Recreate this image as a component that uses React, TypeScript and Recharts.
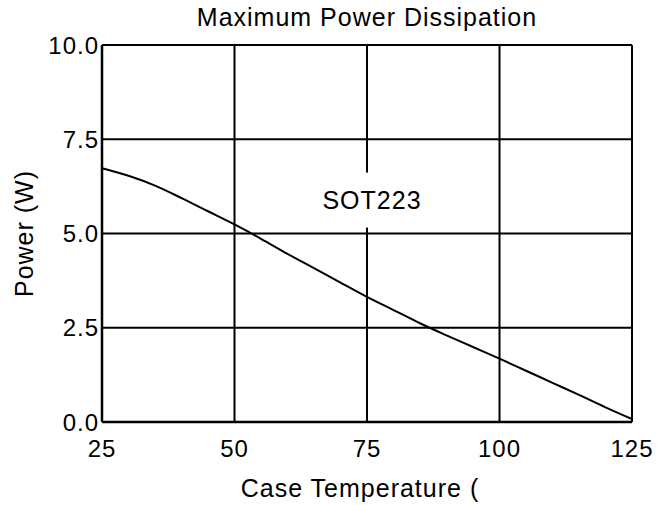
import React from "react";
import {
  LineChart,
  Line,
  XAxis,
  YAxis,
  CartesianGrid,
  Label,
  ReferenceDot,
} from "recharts";

const temperatures = [25, 30, 35, 40, 45, 50, 55, 60, 65, 70, 75, 80, 85, 90, 95, 100, 105, 110, 115, 120, 125];
const powerW = [6.73, 6.53, 6.27, 5.94, 5.59, 5.24, 4.86, 4.46, 4.08, 3.7, 3.32, 2.97, 2.62, 2.3, 1.99, 1.68, 1.36, 1.04, 0.72, 0.39, 0.08];
const xTicks = [25, 50, 75, 100, 125];
const yTicks = [0, 2.5, 5, 7.5, 10];
const title = "Maximum Power Dissipation";
const xLabel = "Case Temperature (";
const yLabel = "Power (W)";
const seriesLabel = "SOT223";
const seriesLabelAt = { x: 75, y: 5.9 };

const data = temperatures.map((t, i) => ({ t, p: powerW[i] }));

const FONT = '"Liberation Sans", Arial, Helvetica, sans-serif';

export default function App() {
  return (
    <div style={{ position: "absolute", left: 0, top: 0, width: 672, height: 506, background: "#fff", fontFamily: FONT }}>
      <div
        style={{
          position: "absolute",
          left: 102,
          width: 530,
          top: 5,
          textAlign: "center",
          fontSize: 25,
          lineHeight: "25px",
          letterSpacing: "1px",
          color: "#000",
          fontFamily: FONT,
        }}
      >
        {title}
      </div>
      <LineChart
        width={672}
        height={506}
        data={data}
        margin={{ top: 45, right: 40, left: 0, bottom: 0 }}
        style={{ fontFamily: FONT }}
      >
        <CartesianGrid stroke="#000" strokeWidth={2} strokeOpacity={1} />
        <XAxis
          dataKey="t"
          type="number"
          domain={[25, 125]}
          ticks={xTicks}
          height={84}
          tickLine={false}
          tickSize={0}
          tickMargin={18}
          axisLine={{ stroke: "#000", strokeWidth: 2.5 }}
          tick={{ fill: "#000", fontSize: 24, fontFamily: FONT, letterSpacing: 1 }}
          interval={0}
        >
          <Label
            content={(props: any) => {
              const vb = props.viewBox || { x: 102, y: 422, width: 530, height: 84 };
              const cx = vb.x + vb.width / 2 - 7;
              const by = vb.y + vb.height - 9;
              return (
                <text
                  x={cx}
                  y={by}
                  textAnchor="middle"
                  style={{ fontSize: 25, fill: "#000", fontFamily: FONT, letterSpacing: 1 }}
                >
                  {xLabel}
                </text>
              );
            }}
          />
        </XAxis>
        <YAxis
          type="number"
          domain={[0, 10]}
          ticks={yTicks}
          width={102}
          tickLine={false}
          tickSize={0}
          tickMargin={3}
          interval={0}
          axisLine={{ stroke: "#000", strokeWidth: 2.5 }}
          tick={{ fill: "#000", fontSize: 24, fontFamily: FONT, letterSpacing: 1 }}
          tickFormatter={(v: number) => v.toFixed(1)}
        >
          <Label
            content={(props: any) => {
              const vb = props.viewBox || { x: 0, y: 45, width: 102, height: 377 };
              const cx = vb.x + 24;
              const cy = vb.y + vb.height / 2;
              return (
                <text
                  x={cx}
                  y={cy}
                  transform={`rotate(-90, ${cx}, ${cy})`}
                  textAnchor="middle"
                  dominantBaseline="central"
                  style={{ fontSize: 25, fill: "#000", fontFamily: FONT, letterSpacing: 1 }}
                >
                  {yLabel}
                </text>
              );
            }}
          />
        </YAxis>
        <Line
          type="monotone"
          dataKey="p"
          stroke="#000"
          strokeWidth={2}
          dot={false}
          isAnimationActive={false}
        />
        <ReferenceDot
          x={seriesLabelAt.x}
          y={seriesLabelAt.y}
          r={0}
          fill="none"
          stroke="none"
          label={(props: any) => {
            const vb = props.viewBox || { x: 0, y: 0, width: 0, height: 0 };
            const cx = vb.x + vb.width / 2;
            const cy = vb.y + vb.height / 2;
            return (
              <g>
                <rect x={cx - 55} y={cy - 27} width={115} height={55} fill="#fff" />
                <text
                  x={cx + 5}
                  y={cy}
                  textAnchor="middle"
                  dominantBaseline="central"
                  style={{ fontSize: 25, fill: "#000", fontFamily: FONT, letterSpacing: 1 }}
                >
                  {seriesLabel}
                </text>
              </g>
            );
          }}
        />
      </LineChart>
    </div>
  );
}
